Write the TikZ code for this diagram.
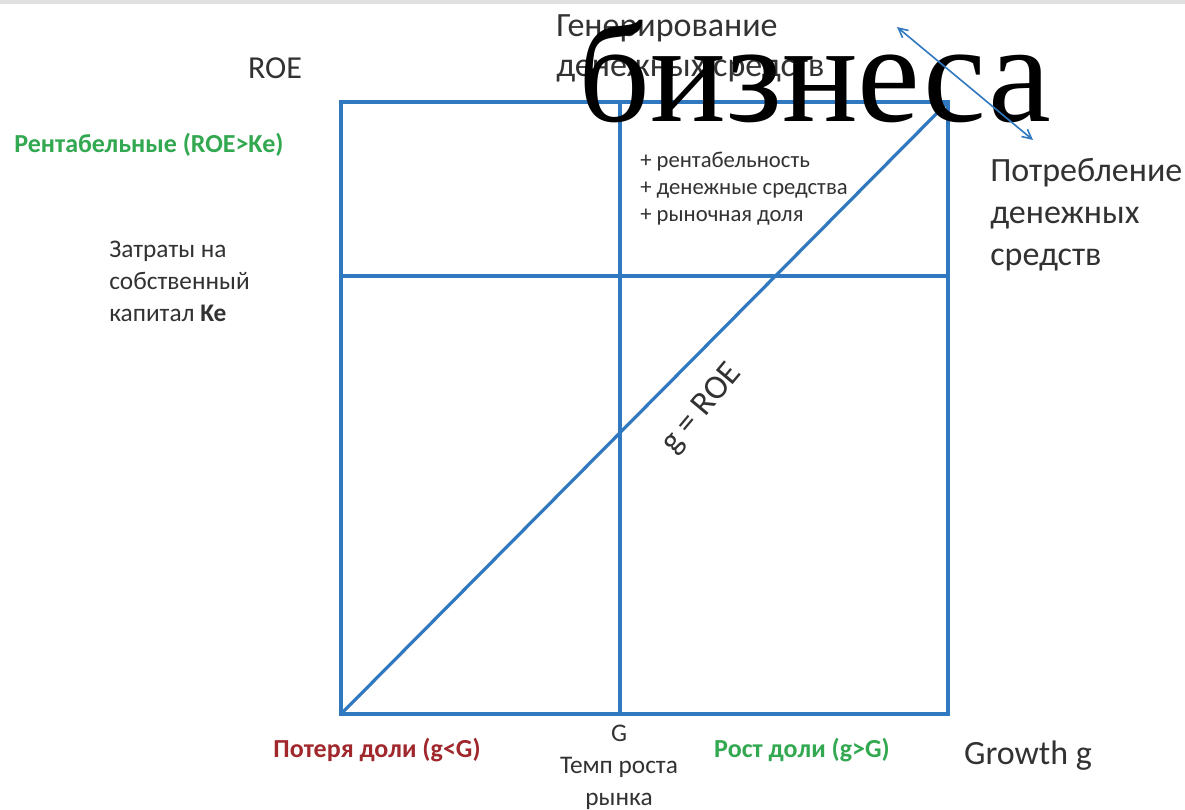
\documentclass[tikz,border=0pt]{standalone}
\usepackage{fontspec}
\setmainfont{Carlito}
\newfontfamily\bigserif{Liberation Serif}
\usetikzlibrary{arrows.meta}
\definecolor{lineblue}{RGB}{48,120,192}
\definecolor{goodgreen}{RGB}{50,168,80}
\definecolor{lossred}{RGB}{160,40,45}
\definecolor{darktext}{RGB}{50,50,50}

\begin{document}
\begin{tikzpicture}[x=0.75pt,y=0.75pt,yscale=-1,xscale=1,
	axis/.style={draw=lineblue, line width=2.4pt},
	lbl/.style={inner sep=0.75pt, text=darktext, align=left},
	]
	\useasboundingbox[fill=white] (0,0) rectangle (1185,810);
	\fill[black!12] (0,0) rectangle (1185,4);

	% corners and split points
	\coordinate (bl) at (341,714);
	\coordinate (tr) at (948,102);
	\coordinate (gtop) at (620,102);
	\coordinate (gbot) at (620,714);
	\coordinate (kleft) at (341,276);
	\coordinate (kright) at (948,276);

	% Rectangle
	\draw [axis] (bl) rectangle (tr);
	% Straight Lines
	\draw [axis] (gtop) -- (gbot);
	\draw [axis] (kleft) -- (kright);
	\draw [axis] (bl) -- (tr);

	% Text Node
	\node [lbl, font=\fontsize{24}{28}\selectfont] (roe) at (275,68) {ROE};
	% Text Node
	\node [lbl, anchor=north west, font=\fontsize{25.5}{30}\selectfont] (gen) at (555,13) {Генерирование\\денежных средств};
	% Text Node
	\node [lbl, text=black, font=\bigserif\fontsize{106}{106}\selectfont] (biz) at (815,72) {бизнеса};
	% Text Node
	\node [lbl, anchor=west, text=goodgreen, font=\bfseries\fontsize{19.5}{22}\selectfont] (rent) at (13,145) {Рентабельные (ROE>Ke)};
	% Text Node
	\node [lbl, anchor=north west, font=\fontsize{19}{24}\selectfont] (ke) at (108,240) {Затраты на\\собственный\\капитал \textbf{Ke}};
	% Text Node
	\node [lbl, anchor=north west, font=\fontsize{17}{20.3}\selectfont] (plus) at (639,151) {+ рентабельность\\+ денежные средства\\+ рыночная доля};
	% Text Node
	\node [lbl, anchor=north west, font=\fontsize{25.5}{31.5}\selectfont] (cons) at (989,157) {Потребление\\денежных\\средств};
	% Text Node
	\node [lbl, rotate=50, font=\fontsize{25.5}{28}\selectfont] (diag) at (702,409) {g = ROE};
	% Text Node
	\node [lbl, align=center, anchor=north, font=\fontsize{19}{24}\selectfont] (gmark) at (619,724) {G\\Темп роста\\рынка};
	% Text Node
	\node [lbl, text=lossred, font=\bfseries\fontsize{19.5}{22}\selectfont] (loss) at (377,750) {Потеря доли (g<G)};
	% Text Node
	\node [lbl, text=goodgreen, font=\bfseries\fontsize{19.5}{22}\selectfont] (gain) at (802,750) {Рост доли (g>G)};
	% Text Node
	\node [lbl, font=\fontsize{25.5}{28}\selectfont] (growth) at (1028,756) {Growth g};

	% Connection
	\coordinate (arrA) at (897,27);
	\coordinate (arrB) at (1033,140);
	\draw [draw=lineblue, line width=1.2pt, {Straight Barb[length=7pt,width=7pt]}-{Straight Barb[length=7pt,width=7pt]}] (arrA) -- (arrB);
\end{tikzpicture}
\end{document}
